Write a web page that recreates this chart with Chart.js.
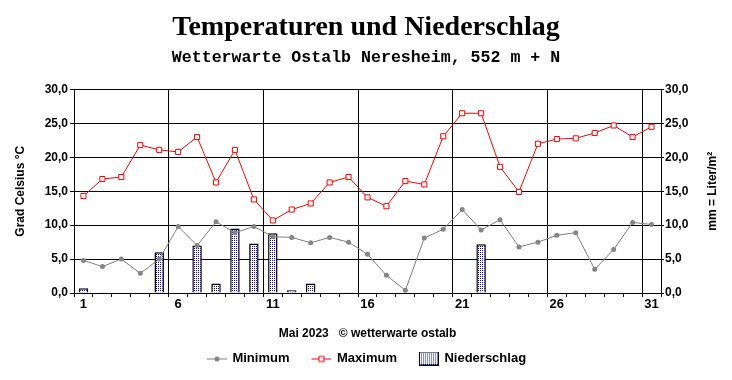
<!DOCTYPE html>
<html>
<head>
<meta charset="utf-8">
<script src="https://cdn.jsdelivr.net/npm/chart.js@4"></script>
<style>
  body { margin: 0; background: #fff; }
  #box { width: 732px; height: 380px; }
</style>
</head>
<body>
<div id="box"><canvas id="Chart1" width="732" height="380"></canvas></div>
<script>
let Tage = []
for (let i = 1; i <= 31; i++) Tage.push(String(i))

let Minimum = [4.8, 3.9, 5.0, 2.9, 5.0, 9.8, 7.0, 10.5, 8.9, 9.8,
               8.3, 8.2, 7.4, 8.2, 7.5, 5.7, 2.6, 0.4, 8.1, 9.4,
               12.3, 9.3, 10.8, 6.8, 7.5, 8.5, 8.9, 3.5, 6.4, 10.4, 10.1]
let Maximum = [14.3, 16.8, 17.1, 21.8, 21.1, 20.8, 23.0, 16.3, 21.1, 13.8,
               10.7, 12.3, 13.2, 16.3, 17.1, 14.1, 12.8, 16.5, 16.0, 23.1,
               26.5, 26.5, 18.6, 14.9, 22.0, 22.7, 22.8, 23.6, 24.7, 23.0, 24.5]
let Niederschlag = [0.7, 0.1, 0, 0, 6.0, 0, 7.0, 1.4, 9.5, 7.3,
                    8.8, 0.4, 1.4, 0, 0.1, 0, 0, 0, 0, 0,
                    0, 7.2, 0, 0, 0, 0, 0, 0, 0, 0, 0]

let Titel = "Temperaturen und Niederschlag"
let Untertitel = "Wetterwarte Ostalb Neresheim, 552 m + N"
let Monat = "Mai 2023   \u00A9 wetterwarte ostalb"

// blau gepunktetes Muster fuer die Balken
function punktMuster(ctx){
    let c = document.createElement("canvas")
    c.width = 2; c.height = 2
    let g = c.getContext("2d")
    g.fillStyle = "#fff"
    g.fillRect(0, 0, 2, 2)
    g.fillStyle = "#0000ff"
    g.fillRect(0, 0, 1, 1)
    return (ctx || g).createPattern(c, "repeat")
}
let muster = punktMuster()

// kleine Bilder fuer die Legende, links etwas Luft fuer den Abstand
let rand = 14
function legendeLinie(farbe, punkt){
    let c = document.createElement("canvas")
    c.width = rand + 20; c.height = 10
    let g = c.getContext("2d")
    g.strokeStyle = farbe
    g.lineWidth = 1
    g.beginPath(); g.moveTo(rand, 5.5); g.lineTo(rand + 20, 5.5); g.stroke()
    if (punkt === "kreis") {
        g.fillStyle = farbe
        g.beginPath(); g.arc(rand + 10, 5.5, 2.5, 0, Math.PI * 2); g.fill()
    } else {
        g.fillStyle = "#fff"
        g.fillRect(rand + 7.5, 3, 5, 5)
        g.strokeRect(rand + 7.5, 3, 5, 5)
    }
    return c
}
function legendeBox(){
    let c = document.createElement("canvas")
    c.width = rand + 20; c.height = 14
    let g = c.getContext("2d")
    g.fillStyle = punktMuster(g)
    g.fillRect(rand, 0, 20, 14)
    g.strokeStyle = "#000"
    g.lineWidth = 1
    g.strokeRect(rand + 0.5, 0.5, 19, 13)
    return c
}
let legendeBilder = [legendeLinie("#808080", "kreis"), legendeLinie("#ff0000", "quadrat"), legendeBox()]

let komma = v => v.toFixed(1).replace(".", ",")

// rechte Achsenbeschriftung von unten nach oben
let rechterTitel = {
    id: "rechterTitel",
    afterUpdate(chart){
        // Legende etwas nach links ruecken
        if (chart.legend && chart.legend.lineWidths) chart.legend.lineWidths[0] += 12
    },
    afterDraw(chart){
        let ctx = chart.ctx
        let a = chart.chartArea
        ctx.save()
        ctx.translate(713, (a.top + a.bottom) / 2)
        ctx.rotate(-Math.PI / 2)
        ctx.font = "bold 12px 'Liberation Sans', Arial, sans-serif"
        ctx.fillStyle = "#000"
        ctx.textAlign = "center"
        ctx.textBaseline = "middle"
        ctx.fillText("mm = Liter/m\u00B2", 0, 0)
        ctx.restore()
    }
}

new Chart(document.getElementById("Chart1"), {
    data: {
        labels: Tage,
        datasets: [{
            type: "line",
            label: "Minimum",
            data: Minimum,
            yAxisID: "y",
            borderColor: "#808080",
            borderWidth: 1,
            pointStyle: "circle",
            pointRadius: 2.5,
            pointBackgroundColor: "#858585",
            pointBorderColor: "#858585",
            pointBorderWidth: 0,
            tension: 0
        },
        {
            type: "line",
            label: "Maximum",
            data: Maximum,
            yAxisID: "y",
            borderColor: "#ff0000",
            borderWidth: 1,
            pointStyle: "rect",
            pointRadius: 3.6,
            pointBackgroundColor: "#fff",
            pointBorderColor: "#ff0000",
            pointBorderWidth: 1,
            tension: 0
        },
        {
            type: "bar",
            label: "Niederschlag",
            data: Niederschlag,
            yAxisID: "y1",
            backgroundColor: muster,
            borderColor: "#000",
            borderWidth: 1.5,
            barPercentage: 0.5,
            categoryPercentage: 1
        }]
    },
    options: {
        responsive: false,
        devicePixelRatio: 1,
        animation: false,
        layout: { padding: { left: 0, right: 0, top: 0, bottom: 5 } },
        plugins: {
            title: {
                display: true,
                text: Titel,
                color: "#000",
                font: { family: "'Liberation Serif', 'Times New Roman', serif", size: 28, weight: "bold" },
                padding: { top: 11, bottom: 3 }
            },
            subtitle: {
                display: true,
                text: Untertitel,
                color: "#000",
                font: { family: "'Liberation Mono', 'Courier New', monospace", size: 16.6, weight: "bold" },
                padding: { top: 0, bottom: 22 }
            },
            tooltip: { enabled: false },
            legend: {
                display: true,
                position: "bottom",
                labels: {
                    color: "#000",
                    font: { family: "'Liberation Sans', Arial, sans-serif", size: 13, weight: "bold" },
                    usePointStyle: true,
                    pointStyleWidth: rand + 18,
                    padding: 9,
                    generateLabels: chart => chart.data.datasets.map((ds, i) => ({
                        text: ds.label,
                        pointStyle: legendeBilder[i],
                        fontColor: "#000",
                        datasetIndex: i,
                        lineWidth: 0,
                        hidden: false
                    }))
                }
            }
        },
        scales: {
            x: {
                type: "category",
                offset: true,
                afterFit: s => { s.height = 50 },
                grid: {
                    offset: true,
                    color: ctx => (ctx.index !== undefined && ctx.index % 5 === 0) ? "#000" : "rgba(0,0,0,0)",
                    tickColor: "#000",
                    tickLength: 4,
                    lineWidth: 1
                },
                border: { color: "#000", width: 1 },
                ticks: {
                    autoSkip: false,
                    maxRotation: 0,
                    padding: 0,
                    color: "#000",
                    font: { family: "'Liberation Sans', Arial, sans-serif", size: 13, weight: "bold" },
                    callback: (v, i) => (i % 5 === 0 ? Tage[i] : "")
                },
                title: {
                    display: true,
                    text: Monat,
                    color: "#000",
                    font: { family: "'Liberation Sans', Arial, sans-serif", size: 12, weight: "bold" },
                    padding: { top: 0, bottom: 2.5 }
                }
            },
            y: {
                position: "left",
                min: 0,
                max: 30,
                afterFit: s => { s.width = 74 },
                grid: { color: "#000", lineWidth: 1, tickLength: 4 },
                border: { color: "#000", width: 1 },
                ticks: {
                    stepSize: 5,
                    padding: 2,
                    color: "#000",
                    font: { family: "'Liberation Sans', Arial, sans-serif", size: 12, weight: "bold" },
                    callback: v => komma(v)
                },
                title: {
                    display: true,
                    text: "Grad Celsius \u00B0C",
                    color: "#000",
                    font: { family: "'Liberation Sans', Arial, sans-serif", size: 12, weight: "bold" },
                    padding: { top: 13, bottom: 0 }
                }
            },
            y1: {
                position: "right",
                min: 0,
                max: 30,
                afterFit: s => { s.width = 71 },
                grid: { drawOnChartArea: false, color: "#000", tickLength: 3 },
                border: { color: "#000", width: 1 },
                ticks: {
                    stepSize: 5,
                    padding: 1,
                    color: "#000",
                    font: { family: "'Liberation Sans', Arial, sans-serif", size: 12, weight: "bold" },
                    callback: v => komma(v)
                }
            }
        }
    },
    plugins: [rechterTitel]
});
</script>
</body>
</html>
